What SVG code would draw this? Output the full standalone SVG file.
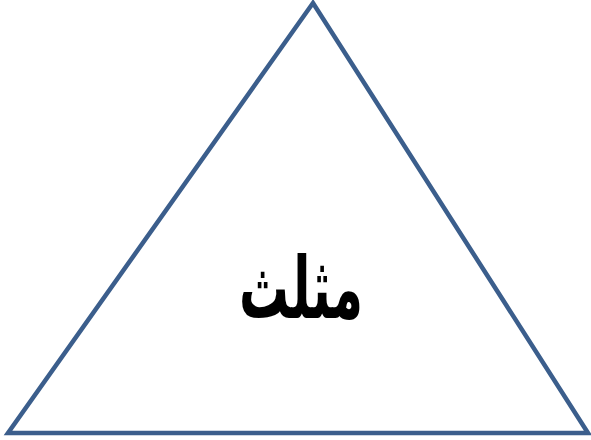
<svg xmlns="http://www.w3.org/2000/svg" width="591" height="440" viewBox="0 0 591 440">
<style>
.shape{fill:#ffffff;stroke:#3b5e8c;stroke-width:4.5;stroke-linejoin:miter}
.lbl{font-family:"DejaVu Sans",sans-serif;font-weight:bold;font-size:72px;fill:#000000}
</style>
<rect width="591" height="440" fill="#ffffff"/>
<g id="triangle">
<polygon class="shape" points="313,3 8,433 588,433" stroke-miterlimit="10"/>
<text class="lbl" transform="translate(301,318) scale(0.69,1.19)" x="0" y="0" text-anchor="middle" direction="rtl">مثلث</text>
</g>
</svg>
